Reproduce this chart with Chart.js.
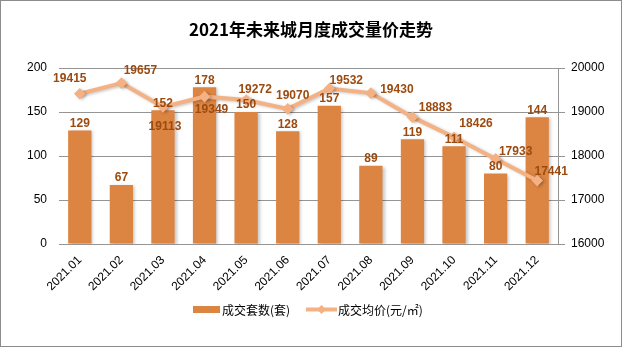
<!DOCTYPE html>
<html>
<head>
<meta charset="utf-8">
<script src="https://cdn.jsdelivr.net/npm/chart.js@4.4.0/dist/chart.umd.min.js"></script>
<style>
  html, body { margin: 0; padding: 0; background: #fff; }
  #wrap { width: 622px; height: 347px; }
</style>
</head>
<body>
<div id="wrap"><canvas id="c" width="622" height="347"></canvas></div>
<script>
// 数据
const months = ['2021.01','2021.02','2021.03','2021.04','2021.05','2021.06','2021.07','2021.08','2021.09','2021.10','2021.11','2021.12'];
const deals = [129, 67, 152, 178, 150, 128, 157, 89, 119, 111, 80, 144];
const prices = [19415, 19657, 19113, 19349, 19272, 19070, 19532, 19430, 18883, 18426, 17933, 17441];
const leftTicks = [0, 50, 100, 150, 200];
const rightTicks = [16000, 17000, 18000, 19000, 20000];

const title = '2021年未来城月度成交量价走势';
const barName = '成交套数(套)';
const lineName = '成交均价(元/㎡)';

const barColor = '#DC8441';
const lineColor = '#F4B183';
const labelColor = '#9C4A0F';
const gridColor = '#959595';
const font = '"Liberation Sans", Arial, sans-serif';

// 均价标签的偏移 (相对数据点)
const priceOffsets = [[-10,-15],[19,-12],[2,20],[7,13],[9,-10],[5,-13],[17,-8],[26,-3],[23,-9],[22,-14],[20,-7],[14,-9]];

const shadowPlugin = {
  id: 'shadow',
  beforeDatasetDraw(chart, args) {
    const ctx = chart.ctx;
    ctx.save();
    ctx.shadowColor = 'rgba(0,0,0,0.22)';
    ctx.shadowBlur = 3;
    ctx.shadowOffsetX = 2;
    ctx.shadowOffsetY = 1;
  },
  afterDatasetDraw(chart) {
    chart.ctx.restore();
  }
};

const decorPlugin = {
  id: 'decor',
  afterDraw(chart) {
    const ctx = chart.ctx;
    ctx.save();
    // 外框
    ctx.strokeStyle = '#8C8C8C';
    ctx.lineWidth = 1;
    ctx.strokeRect(0.5, 0.5, chart.width - 1, chart.height - 1);
    // 标题
    ctx.fillStyle = '#000';
    ctx.font = 'bold 17px "Noto Sans CJK SC", sans-serif';
    ctx.textAlign = 'center';
    ctx.textBaseline = 'middle';
    ctx.fillText(title, 311, 30);

    // 数据标签
    ctx.font = 'bold 12px ' + font;
    ctx.fillStyle = labelColor;
    const barMeta = chart.getDatasetMeta(0);
    barMeta.data.forEach((el, i) => {
      ctx.fillText(String(deals[i]), el.x, el.y - 7);
    });
    const lineMeta = chart.getDatasetMeta(1);
    lineMeta.data.forEach((el, i) => {
      const o = priceOffsets[i];
      ctx.fillText(String(prices[i]), el.x + o[0], el.y + o[1]);
    });

    // 图例
    ctx.fillStyle = barColor;
    ctx.fillRect(193, 306, 27, 7);
    ctx.strokeStyle = lineColor;
    ctx.lineWidth = 4;
    ctx.beginPath();
    ctx.moveTo(306, 309.5);
    ctx.lineTo(337, 309.5);
    ctx.stroke();
    ctx.fillStyle = lineColor;
    ctx.beginPath();
    ctx.moveTo(321.5, 305);
    ctx.lineTo(326, 309.5);
    ctx.lineTo(321.5, 314);
    ctx.lineTo(317, 309.5);
    ctx.closePath();
    ctx.fill();
    ctx.fillStyle = '#000';
    ctx.font = '12px "Noto Sans CJK SC", sans-serif';
    ctx.textAlign = 'left';
    ctx.fillText(barName, 222, 310);
    ctx.fillText(lineName, 338, 310);
    ctx.restore();
  }
};

new Chart(document.getElementById('c'), {
  data: {
    labels: months,
    datasets: [
      {
        type: 'bar',
        label: barName,
        data: deals,
        backgroundColor: barColor,
        yAxisID: 'y',
        categoryPercentage: 1,
        barPercentage: 0.56,
        order: 2
      },
      {
        type: 'line',
        label: lineName,
        data: prices,
        borderColor: lineColor,
        backgroundColor: lineColor,
        borderWidth: 4,
        pointStyle: 'rectRot',
        pointRadius: 3,
        pointHoverRadius: 3,
        tension: 0,
        yAxisID: 'y1',
        order: 1
      }
    ]
  },
  options: {
    responsive: false,
    animation: false,
    devicePixelRatio: 1,
    layout: { padding: { top: 68, left: 0, right: 0, bottom: 0 } },
    plugins: {
      legend: { display: false },
      title: { display: false },
      tooltip: { enabled: false }
    },
    scales: {
      x: {
        grid: { offset: true, drawOnChartArea: false, drawTicks: false },
        border: { display: true, color: gridColor },
        ticks: {
          color: '#000',
          font: { family: font, size: 12 },
          maxRotation: 45,
          minRotation: 45,
          padding: 9
        },
        afterFit(scale) { scale.height = 103; }
      },
      y: {
        position: 'left',
        min: 0,
        max: 200,
        afterBuildTicks(scale) { scale.ticks = leftTicks.map(v => ({ value: v })); },
        grid: { color: gridColor, drawTicks: false },
        border: { display: false },
        ticks: {
          color: '#000',
          font: { family: font, size: 12 },
          padding: 12
        },
        afterFit(scale) { scale.width = 59; }
      },
      y1: {
        position: 'right',
        min: 16000,
        max: 20000,
        afterBuildTicks(scale) { scale.ticks = rightTicks.map(v => ({ value: v })); },
        grid: { drawOnChartArea: false, drawTicks: true, tickLength: 7, color: gridColor },
        border: { display: true, color: gridColor },
        ticks: {
          color: '#000',
          font: { family: font, size: 12 },
          padding: 6,
          callback: v => String(v)
        },
        afterFit(scale) { scale.width = 64; }
      }
    }
  },
  plugins: [shadowPlugin, decorPlugin]
});
</script>
</body>
</html>
